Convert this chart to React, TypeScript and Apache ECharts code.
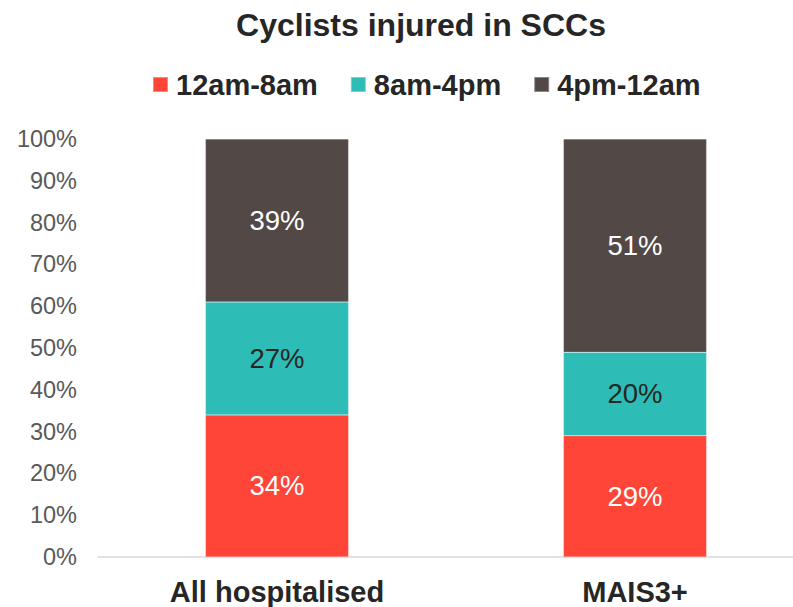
import React, { useEffect, useRef } from "react";
import * as echarts from "echarts";

const categories = ["All hospitalised", "MAIS3+"];
const seriesNames = ["12am-8am", "8am-4pm", "4pm-12am"];
const night = [34, 29];
const day = [27, 20];
const evening = [39, 51];
const colors = ["#FF4538", "#2EBDB6", "#524845"];
const labelColors = ["#FFFFFF", "#262626", "#FFFFFF"];

export default function App() {
  const ref = useRef<HTMLDivElement>(null);
  useEffect(() => {
    if (!ref.current) return;
    const chart = echarts.init(ref.current, null, { renderer: "svg" });
    const font = "'Liberation Sans', Arial, sans-serif";
    const data = [night, day, evening];
    chart.setOption({
      animation: false,
      textStyle: { fontFamily: font },
      title: {
        text: "Cyclists injured in SCCs",
        left: 421,
        textAlign: "center",
        top: 9,
        padding: 0,
        textStyle: { fontSize: 32, fontWeight: "bold", color: "#262626", fontFamily: font },
      },
      legend: {
        top: 70,
        left: 152,
        padding: 0,
        itemWidth: 15,
        itemHeight: 15,
        itemGap: 32,
        icon: "rect",
        textStyle: { fontSize: 29, fontWeight: "bold", color: "#262626", fontFamily: font, padding: [0, 0, 0, 3] },
        data: seriesNames,
      },
      grid: { left: 98, width: 716, top: 139, height: 418, containLabel: false, outerBoundsMode: "none" },
      xAxis: {
        type: "category",
        data: categories,
        axisLine: { show: true, lineStyle: { color: "#D9D9D9", width: 1.5 } },
        axisTick: { show: false },
        axisLabel: { fontSize: 29, fontWeight: "bold", color: "#262626", margin: 20, fontFamily: font },
      },
      yAxis: {
        type: "value",
        min: 0,
        max: 100,
        interval: 10,
        splitLine: { show: false },
        axisLine: { show: false },
        axisTick: { show: false },
        axisLabel: { formatter: "{value}%", fontSize: 23.5, color: "#595959", margin: 21, fontFamily: font },
      },
      series: seriesNames.map((name, i) => ({
        name,
        type: "bar",
        stack: "total",
        barWidth: "40%",
        data: data[i],
        itemStyle: { color: colors[i], borderColor: "rgba(255,255,255,0.35)", borderWidth: 0.5 },
        label: {
          show: true,
          position: "inside",
          formatter: "{c}%",
          fontSize: 27.5,
          color: labelColors[i],
          fontFamily: font,
        },
      })),
    });
    return () => chart.dispose();
  }, []);
  return <div ref={ref} style={{ width: 793, height: 607, position: "absolute", left: 0, top: 0 }} />;
}
